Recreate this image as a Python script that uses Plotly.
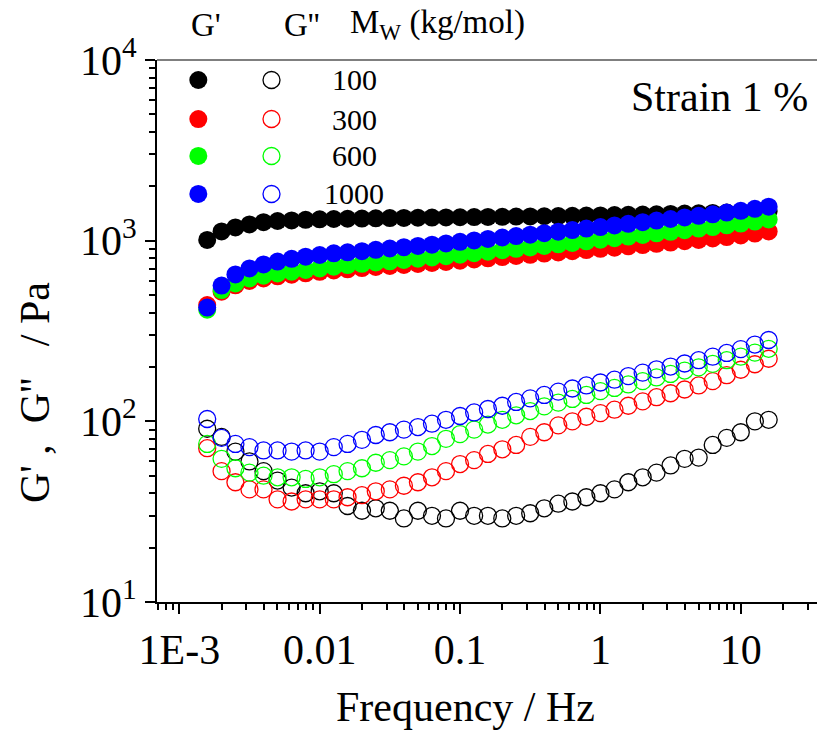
import plotly.graph_objects as go

# Frequency sweep (Hz)
freq = [0.00158, 0.002, 0.00251, 0.00316, 0.00398, 0.00501, 0.00631, 0.00794,
        0.01, 0.0126, 0.0158, 0.02, 0.0251, 0.0316, 0.0398, 0.0501, 0.0631, 0.0794,
        0.1, 0.126, 0.158, 0.2, 0.251, 0.316, 0.398, 0.501, 0.631, 0.794,
        1, 1.26, 1.58, 2, 2.51, 3.16, 3.98, 5.01, 6.31, 7.94, 10, 12.6, 15.8]

# Storage modulus G' (Pa)
gp_100 = [1009, 1125, 1183, 1230, 1265, 1285, 1295, 1305, 1312, 1318, 1322, 1326, 1330, 1333,
          1336, 1339, 1342, 1345, 1348, 1350, 1353, 1356, 1359, 1362, 1365, 1368, 1372, 1376,
          1380, 1385, 1390, 1395, 1400, 1406, 1412, 1418, 1425, 1432, 1440, 1450, 1460]
gp_300 = [440, 522, 566, 598, 618, 635, 648, 660, 672, 684, 694, 705, 715, 724, 734, 743, 753,
          763, 775, 787, 799, 811, 823, 835, 848, 861, 874, 887, 901, 915, 930, 945, 960, 976,
          993, 1010, 1028, 1047, 1068, 1094, 1125]
gp_600 = [415, 533, 580, 618, 640, 659, 673, 688, 702, 718, 733, 744, 757, 769, 782, 795, 808,
          821, 837, 853, 869, 885, 901, 918, 935, 954, 972, 992, 1012, 1032, 1054, 1076, 1098,
          1120, 1143, 1166, 1190, 1216, 1243, 1275, 1310]
gp_1000 = [426, 564, 650, 702, 739, 766, 793, 815, 833, 851, 862, 875, 890, 905, 920, 935, 950,
           966, 985, 1003, 1022, 1041, 1060, 1080, 1100, 1122, 1144, 1167, 1190, 1214, 1240,
           1266, 1292, 1318, 1345, 1372, 1400, 1430, 1462, 1500, 1543]

# Loss modulus G'' (Pa)
gpp_100 = [91, 82, 68, 60, 53, 47, 43, 40, 41, 40, 34, 32, 33, 32, 29, 32, 30, 29, 32, 30, 30,
           29, 30, 31, 33, 35, 36, 38, 40, 42, 46, 49, 52, 57, 62, 63, 74, 81, 87, 100, 102]
gpp_300 = [71, 53, 46, 42, 42, 37, 36, 37, 37, 37, 38, 39, 41, 42, 44, 46, 49, 53, 58, 61, 66,
           70, 74, 82, 87, 95, 100, 106, 111, 116, 122, 129, 136, 143, 150, 158, 167, 180, 193,
           207, 222]
gpp_600 = [75, 62, 55, 52, 50, 49, 49, 48, 49, 51, 53, 55, 59, 61, 64, 68, 73, 80, 85, 90, 96,
           102, 108, 114, 121, 127, 133, 140, 147, 153, 160, 167, 175, 183, 191, 199, 208, 218,
           228, 240, 252]
gpp_1000 = [103, 81, 75, 72, 69, 69, 68, 69, 68, 72, 75, 79, 84, 87, 90, 93, 97, 102, 107, 112,
            117, 122, 128, 134, 140, 146, 152, 158, 164, 170, 178, 186, 194, 201, 209, 218, 228,
            239, 251, 266, 282]

mw_labels = ["100", "300", "600", "1000"]
colors = ["#000000", "#FF0000", "#00FF00", "#0000FF"]

FONT = "Liberation Serif, Times New Roman, DejaVu Serif, serif"
NB = "\u00a0"

fig = go.Figure()

storage = [gp_100, gp_300, gp_600, gp_1000]
loss = [gpp_100, gpp_300, gpp_600, gpp_1000]

# open circles (G'')
for vals, col in zip(loss, colors):
    fig.add_trace(go.Scatter(
        x=freq, y=vals, mode="markers",
        marker=dict(symbol="circle-open", size=17, color=col, line=dict(width=1.3, color=col)),
        showlegend=False, cliponaxis=False))

# filled circles (G')
for vals, col in zip(storage, colors):
    fig.add_trace(go.Scatter(
        x=freq, y=vals, mode="markers",
        marker=dict(symbol="circle", size=18, color=col, line=dict(width=0)),
        showlegend=False, cliponaxis=False))

x_major = [0.001, 0.01, 0.1, 1, 10]
x_major_text = ["1E-3", "0.01", "0.1", "1", "10"]
x_minor = [m * 10 ** e for e in range(-4, 2) for m in range(2, 10)]
y_major = [10, 100, 1000, 10000]
y_major_text = ["10<sup>1</sup>", "10<sup>2</sup>", "10<sup>3</sup>", "10<sup>4</sup>"]
y_minor = [m * 10 ** e for e in range(1, 4) for m in range(2, 10)]

axis_common = dict(
    type="log", showgrid=False, zeroline=False, showline=True, linecolor="black",
    linewidth=2, ticks="outside", ticklen=10, tickwidth=2, tickcolor="black",
    tickfont=dict(family=FONT, size=42, color="black"), mirror=False,
)

fig.update_xaxes(
    **axis_common, range=[-3.159, 1.543], tickmode="array",
    tickvals=x_major, ticktext=x_major_text,
    minor=dict(tickmode="array", tickvals=x_minor, ticks="outside", ticklen=6,
               tickwidth=2, tickcolor="black", showgrid=False),
)
fig.update_yaxes(
    **axis_common, range=[1, 4], tickmode="array",
    tickvals=y_major, ticktext=y_major_text,
    minor=dict(tickmode="array", tickvals=y_minor, ticks="outside", ticklen=6,
               tickwidth=2, tickcolor="black", showgrid=False),
)

shapes = [dict(type="line", xref="paper", yref="paper", x0=0, x1=1, y0=1, y1=1,
               line=dict(color="#555555", width=1.5))]
annotations = []

# legend block: symbol columns and molar-mass labels
row_y = [0.9631, 0.8911, 0.8229, 0.7528]
for lab, col, yy in zip(mw_labels, colors, row_y):
    shapes.append(dict(type="circle", xref="paper", yref="paper",
                       xsizemode="pixel", ysizemode="pixel",
                       xanchor=0.0626, yanchor=yy, x0=-9, x1=9, y0=-9, y1=9,
                       fillcolor=col, line=dict(width=0)))
    shapes.append(dict(type="circle", xref="paper", yref="paper",
                       xsizemode="pixel", ysizemode="pixel",
                       xanchor=0.1735, yanchor=yy, x0=-8.5, x1=8.5, y0=-8.5, y1=8.5,
                       fillcolor="rgba(0,0,0,0)", line=dict(width=1.3, color=col)))
    annotations.append(dict(xref="paper", yref="paper", x=0.2985, y=yy, text=lab,
                            showarrow=False, xanchor="center", yanchor="middle",
                            font=dict(family=FONT, size=30, color="black")))

y_title = "G'" + NB + "," + NB * 2 + "G''" + NB * 3 + "/" + NB + "Pa"

annotations += [
    dict(xref="paper", yref="paper", x=0.0742, y=1.0646, text="G'", showarrow=False,
         xanchor="center", yanchor="middle", font=dict(family=FONT, size=33, color="black")),
    dict(xref="paper", yref="paper", x=0.2197, y=1.0646, text="G''", showarrow=False,
         xanchor="center", yanchor="middle", font=dict(family=FONT, size=33, color="black")),
    dict(xref="paper", yref="paper", x=0.2894, y=1.0646, text="M<sub>W</sub> (kg/mol)",
         showarrow=False, xanchor="left", yanchor="middle",
         font=dict(family=FONT, size=33, color="black")),
    dict(xref="paper", yref="paper", x=0.9894, y=0.9317, text="Strain 1 %", showarrow=False,
         xanchor="right", yanchor="middle", font=dict(family=FONT, size=42, color="black")),
    dict(xref="paper", yref="paper", x=0.468, y=-0.1937, text="Frequency / Hz",
         showarrow=False, xanchor="center", yanchor="middle",
         font=dict(family=FONT, size=42, color="black")),
    dict(xref="paper", yref="paper", x=-0.1848, y=0.3856, text=y_title,
         showarrow=False, textangle=-90, xanchor="center", yanchor="middle",
         font=dict(family=FONT, size=42, color="black")),
]

fig.update_layout(
    width=817, height=730, autosize=False,
    margin=dict(l=157, r=0, t=60, b=128, pad=0),
    paper_bgcolor="white", plot_bgcolor="white",
    font=dict(family=FONT, color="black"),
    shapes=shapes, annotations=annotations, showlegend=False,
)

fig.write_html("out.html")
